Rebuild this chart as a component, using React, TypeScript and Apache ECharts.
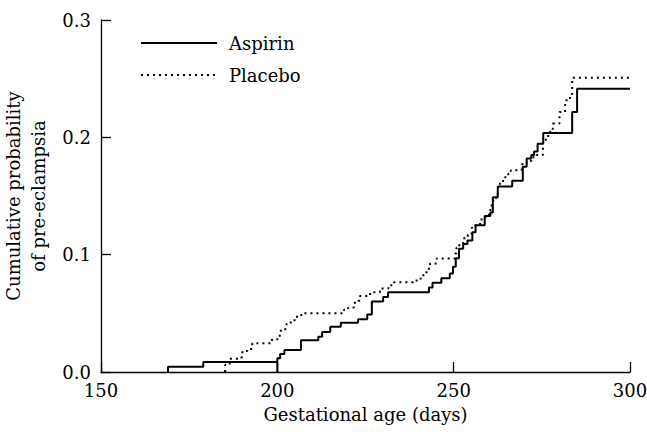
import React, { useEffect, useRef } from "react";
import * as echarts from "echarts";

const xTicks = [150, 200, 250, 300];
const yTicks = [0, 0.1, 0.2, 0.3];
const seriesNames = ["Aspirin", "Placebo"];

// [gestational age (days), cumulative probability] - value after each step
const aspirin: number[][] = [
  [169, 0], [169, 0.0045], [179, 0.0085], [200, 0], [200, 0.0117], [200.8, 0.0153],
  [202, 0.0187], [206.7, 0.027], [211.6, 0.03], [212.7, 0.034], [215, 0.0386],
  [218, 0.042], [222.9, 0.045], [225.5, 0.049], [226.8, 0.06], [230, 0.064],
  [231.4, 0.068], [243, 0.072], [244, 0.076], [246.5, 0.08], [248.9, 0.084],
  [249.8, 0.0896], [250.6, 0.097], [251.5, 0.105], [252.7, 0.109], [253.9, 0.112],
  [255.3, 0.119], [256.2, 0.125], [258.8, 0.133], [260.4, 0.136], [261.1, 0.149],
  [262.5, 0.158], [266.6, 0.163], [269.6, 0.175], [270.7, 0.182], [272, 0.185],
  [272.8, 0.188], [273.8, 0.1945], [275.4, 0.2037], [283.6, 0.2215], [285, 0.2414],
  [300, 0.2414],
];

const placebo: number[][] = [
  [185.2, 0], [185.2, 0.006], [186.5, 0.0113], [189.8, 0.0125], [190.1, 0.018],
  [191.5, 0.0196], [192.9, 0.0245], [198.5, 0.028], [200.7, 0.032], [201, 0.0365],
  [202.6, 0.041], [203.8, 0.044], [205.2, 0.047], [206.1, 0.0485], [207.3, 0.05],
  [218.9, 0.053], [220.1, 0.055], [221.7, 0.059], [223, 0.0607], [223.4, 0.0647],
  [226.3, 0.068], [229.1, 0.0712], [231.5, 0.074], [233.1, 0.0765], [238.5, 0.078],
  [240.6, 0.0797], [241.4, 0.084], [242.3, 0.088], [243.3, 0.0925], [245.2, 0.0967],
  [250.4, 0.101], [250.8, 0.106], [251.6, 0.109], [252.7, 0.114], [254, 0.117],
  [255.1, 0.123], [255.6, 0.125], [257.5, 0.13], [259, 0.134], [260.3, 0.138],
  [260.8, 0.143], [261.2, 0.147], [262, 0.152], [262.6, 0.157], [263.1, 0.162],
  [264, 0.166], [265.5, 0.169], [266.2, 0.172], [269.3, 0.177], [270.7, 0.18],
  [272.1, 0.183], [273.5, 0.185], [275.3, 0.198], [276.8, 0.2045], [278.1, 0.2117],
  [280, 0.2215], [281.6, 0.2315], [283, 0.237], [283.6, 0.2508], [300, 0.2508],
];

const FONT = "DejaVu Serif";
const FS = 18;

export default function App() {
  const ref = useRef<HTMLDivElement>(null);
  useEffect(() => {
    if (!ref.current) return;
    const chart = echarts.init(ref.current, null, { renderer: "svg" });
    chart.setOption({
      animation: false,
      backgroundColor: "#ffffff",
      textStyle: { fontFamily: FONT, color: "#000" },
      grid: { left: 101, right: 17, top: 20, bottom: 63, containLabel: false, outerBoundsMode: "none" },
      legend: {
        orient: "vertical",
        left: 140,
        top: 34,
        padding: 0,
        itemWidth: 76,
        itemHeight: 14,
        itemGap: 14,
        data: seriesNames,
        itemStyle: { opacity: 0 },
        textStyle: { fontFamily: FONT, fontSize: FS, color: "#000", padding: [0, 0, 0, 7] },
      },
      xAxis: {
        type: "value",
        min: xTicks[0],
        max: xTicks[xTicks.length - 1],
        interval: 50,
        name: "Gestational age (days)",
        nameLocation: "middle",
        nameGap: 33,
        nameTextStyle: { fontFamily: FONT, fontSize: FS, color: "#000" },
        axisLine: { show: true, onZero: false, lineStyle: { color: "#000", width: 1.3 } },
        axisTick: { show: true, inside: true, length: 10, lineStyle: { color: "#000", width: 1.3 } },
        axisLabel: { fontFamily: FONT, fontSize: FS, color: "#000", margin: 9 },
        splitLine: { show: false },
      },
      yAxis: {
        type: "value",
        min: yTicks[0],
        max: yTicks[yTicks.length - 1],
        interval: 0.1,
        name: "Cumulative probability\nof pre-eclampsia",
        nameLocation: "middle",
        nameRotate: 90,
        nameGap: 45,
        nameTextStyle: { fontFamily: FONT, fontSize: FS, color: "#000", lineHeight: 25 },
        axisLine: { show: true, onZero: false, lineStyle: { color: "#000", width: 1.3 } },
        axisTick: { show: true, inside: true, length: 10, lineStyle: { color: "#000", width: 1.3 } },
        axisLabel: {
          fontFamily: FONT, fontSize: FS, color: "#000", margin: 10,
          formatter: (v: number) => v.toFixed(1),
        },
        splitLine: { show: false },
      },
      series: [
        {
          name: seriesNames[0],
          type: "line",
          step: "end",
          data: aspirin,
          showSymbol: false,
          symbol: "none",
          lineStyle: { color: "#000", width: 2 },
          itemStyle: { color: "#000" },
        },
        {
          name: seriesNames[1],
          type: "line",
          step: "end",
          data: placebo,
          showSymbol: false,
          symbol: "none",
          lineStyle: { color: "#000", width: 2, type: [2, 4], cap: "butt" },
          itemStyle: { color: "#000" },
        },
      ],
    });
    return () => chart.dispose();
  }, []);
  return (
    <div
      ref={ref}
      style={{ position: "fixed", left: 0, top: 0, width: 647, height: 435 }}
    />
  );
}
